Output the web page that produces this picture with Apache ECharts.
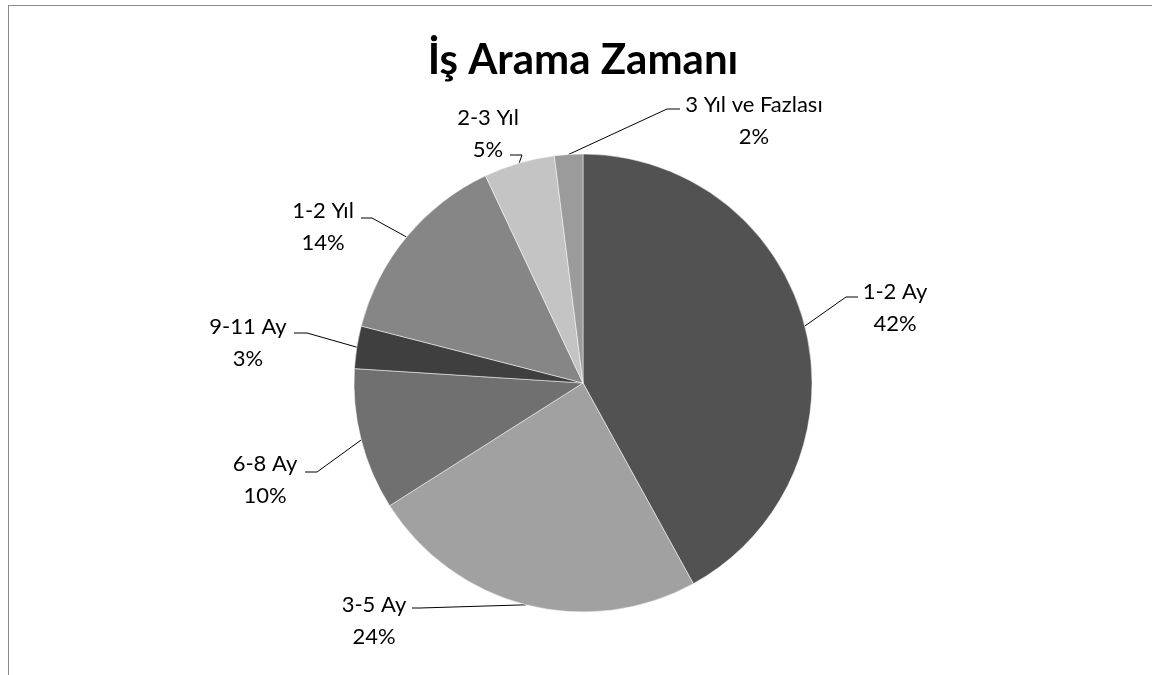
<!DOCTYPE html>
<html>
<head>
<meta charset="utf-8">
<script src="https://cdn.jsdelivr.net/npm/echarts@6/dist/echarts.min.js"></script>
<style>
  html, body { margin: 0; padding: 0; background: #fff; }
  #chart { width: 1152px; height: 675px; }
</style>
</head>
<body>
<div id="chart"></div>
<script>
// veriler
const categories = ['1-2 Ay', '3-5 Ay', '6-8 Ay', '9-11 Ay', '1-2 Yıl', '2-3 Yıl', '3 Yıl ve Fazlası'];
const values = [42, 24, 10, 3, 14, 5, 2];
const colors = ['#525252', '#a1a1a1', '#707070', '#3f3f3f', '#868686', '#c4c4c4', '#9b9b9b'];

// etiket yerleşimi (metin merkezi, kırılma noktası, çizgi sonu)
const labelPos = [
  { t: [895, 308], e: [846, 297], s: [858, 297] },
  { t: [374, 621], e: [420, 608], s: [412, 608] },
  { t: [265, 480], e: [317, 472], s: [305, 472] },
  { t: [248, 343], e: [307, 333], s: [294, 333] },
  { t: [323, 227], e: [372, 218], s: [361, 218] },
  { t: [488, 134], e: [522, 155], s: [510, 155] },
  { t: [754, 121], e: [667, 109], s: [680, 109] }
];

let chart = echarts.init(document.getElementById('chart'));
let option = {
  backgroundColor: '#fff',
  title: {
    text: 'İş Arama Zamanı',
    left: 578,
    textAlign: 'center',
    top: 34,
    textStyle: { fontFamily: 'Lato', fontSize: 42, fontWeight: 'bold', color: '#000' }
  },
  graphic: [
    { type: 'line', shape: { x1: 8, y1: 5.5, x2: 1152, y2: 5.5 }, style: { stroke: '#8a8a8a', lineWidth: 1 } },
    { type: 'line', shape: { x1: 8.5, y1: 5, x2: 8.5, y2: 675 }, style: { stroke: '#8a8a8a', lineWidth: 1 } }
  ],
  series: [{
    type: 'pie',
    center: [583, 383],
    radius: [0, 229],
    startAngle: 90,
    clockwise: true,
    silent: true,
    avoidLabelOverlap: false,
    itemStyle: { borderColor: '#fff', borderWidth: 0.5 },
    label: {
      show: true,
      position: 'outside',
      formatter: p => p.name + '\n' + p.value + '%',
      fontFamily: 'Lato',
      fontSize: 22,
      lineHeight: 32,
      color: '#000',
      align: 'center'
    },
    labelLine: {
      show: true,
      length: 20,
      length2: 10,
      lineStyle: { color: '#000', width: 1 }
    },
    labelLayout: params => {
      const lp = labelPos[params.dataIndex];
      const start = params.labelLinePoints ? params.labelLinePoints[0] : lp.e;
      return {
        x: lp.t[0],
        y: lp.t[1],
        align: 'center',
        verticalAlign: 'middle',
        labelLinePoints: [start, lp.e, lp.s]
      };
    },
    data: categories.map((c, i) => ({ name: c, value: values[i], itemStyle: { color: colors[i] } }))
  }]
};
chart.setOption(option);
window.addEventListener('resize', () => { chart.resize(); });
</script>
</body>
</html>
